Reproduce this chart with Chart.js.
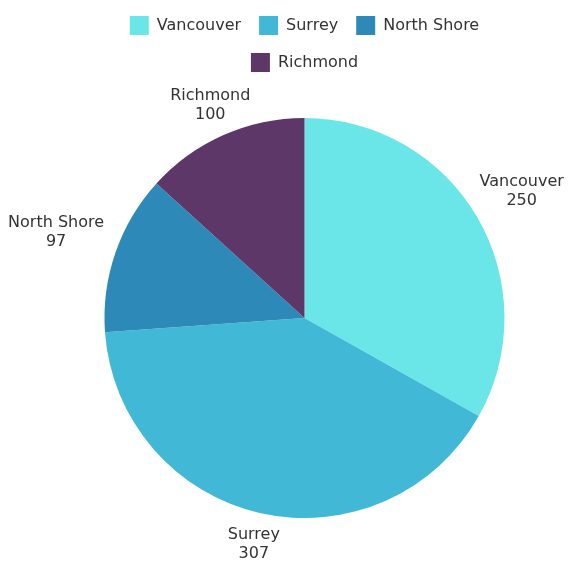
<!DOCTYPE html>
<html>
<head>
<meta charset="utf-8">
<script src="https://cdn.jsdelivr.net/npm/chart.js@4/dist/chart.umd.min.js"></script>
<style>
html,body{margin:0;padding:0;background:#fff;}
#wrap{width:579px;height:561px;position:relative;}
</style>
</head>
<body>
<div id="wrap"><canvas id="c"></canvas></div>
<script>
const categories = ["Vancouver", "Surrey", "North Shore", "Richmond"];
const values = [250, 307, 97, 100];
const colors = ["#6ae6e8", "#42b8d7", "#2d8ab8", "#5e3769"];

const FONT = "'DejaVu Sans', sans-serif";
const TEXT = "#333333";

const outsideLabels = {
  id: 'outsideLabels',
  afterDatasetsDraw(chart) {
    const ctx = chart.ctx;
    const meta = chart.getDatasetMeta(0);
    const ds = chart.data.datasets[0];
    ctx.save();
    ctx.font = "16px " + FONT;
    ctx.fillStyle = TEXT;
    ctx.textAlign = 'center';
    ctx.textBaseline = 'middle';
    const lineH = 19, pad = 2, offset = 10;
    meta.data.forEach((arc, i) => {
      const p = arc.getProps(['x','y','startAngle','endAngle','outerRadius'], true);
      const mid = (p.startAngle + p.endAngle) / 2;
      const cx = Math.cos(mid), sy = Math.sin(mid);
      const ax = p.x + cx * (p.outerRadius + offset);
      const ay = p.y + sy * (p.outerRadius + offset);
      const lines = [chart.data.labels[i], String(ds.data[i])];
      const w = Math.max(...lines.map(l => ctx.measureText(l).width)) + 2 * pad;
      const h = lines.length * lineH + 2 * pad;
      const dx = Math.abs(cx) > 1e-6 ? (w / 2) / Math.abs(cx) : Infinity;
      const dy = Math.abs(sy) > 1e-6 ? (h / 2) / Math.abs(sy) : Infinity;
      const d = Math.min(dx, dy);
      const lx = ax + cx * d, ly = ay + sy * d;
      lines.forEach((l, k) => {
        ctx.fillText(l, lx, ly + (k - (lines.length - 1) / 2) * lineH);
      });
    });
    ctx.restore();
  }
};

new Chart(document.getElementById('c'), {
  type: 'pie',
  data: {
    labels: categories,
    datasets: [{
      data: values,
      backgroundColor: colors,
      borderWidth: 0,
      radius: 200
    }]
  },
  options: {
    responsive: true,
    maintainAspectRatio: false,
    animation: false,
    layout: { padding: { left: 82, right: 52, top: -2, bottom: 7 } },
    plugins: {
      legend: {
        position: 'top',
        labels: {
          boxWidth: 19,
          boxHeight: 19,
          padding: 18,
          color: TEXT,
          font: { family: FONT, size: 16 }
        }
      },
      tooltip: { enabled: false }
    }
  },
  plugins: [outsideLabels]
});
</script>
</body>
</html>
